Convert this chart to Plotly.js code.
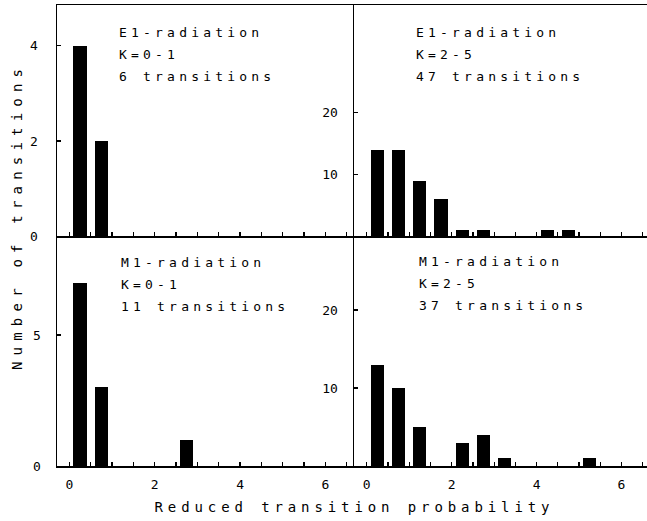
<!DOCTYPE html>
<html>
<head>
<meta charset="utf-8">
<script src="https://cdn.plot.ly/plotly-3.0.1.min.js"></script>
<style>
  html, body { margin: 0; padding: 0; background: #fff; }
  .annotation-text { letter-spacing: 4.2px; }
  .xtick text, .ytick text { letter-spacing: 3px; }
</style>
</head>
<body>
<div id="chart" style="width:647px;height:521px;"></div>
<script>
// Bin centres (reduced transition probability) and counts for each panel
const e1LowK_x  = [0.25, 0.75];
const e1LowK_y  = [4, 2];
const e1HighK_x = [0.25, 0.75, 1.25, 1.75, 2.25, 2.75, 4.25, 4.75];
const e1HighK_y = [14, 14, 9, 6, 1, 1, 1, 1];
const m1LowK_x  = [0.25, 0.75, 2.75];
const m1LowK_y  = [7, 3, 1];
const m1HighK_x = [0.25, 0.75, 1.25, 2.25, 2.75, 3.25, 5.25];
const m1HighK_y = [13, 10, 5, 3, 4, 1, 1];

// Panel labels
const panelLines = [
  ["E1-radiation", "K=0-1", "6 transitions"],
  ["E1-radiation", "K=2-5", "47 transitions"],
  ["M1-radiation", "K=0-1", "11 transitions"],
  ["M1-radiation", "K=2-5", "37 transitions"]
];

// Tick labels
const xTickVals = [0, 0.5, 1, 1.5, 2, 2.5, 3, 3.5, 4, 4.5, 5, 5.5, 6, 6.5];
const xTickText = ["0", "", "", "", "2", "", "", "", "4", "", "", "", "6", ""];
const yTicksTL = [0, 2, 4];
const yTicksTR = [10, 20];
const yTicksBL = [0, 5];
const yTicksBR = [10, 20];

const xTitle = "Reduced transition probability";
const yTitle = "Number of transitions";

const FONT = "DejaVu Sans Mono";
const bar = (x, y, xa, ya) => ({
  type: "bar", x: x, y: y, xaxis: xa, yaxis: ya,
  width: 0.31, marker: {color: "#000", line: {width: 0}},
  hoverinfo: "x+y", showlegend: false
});

const data = [
  bar(e1LowK_x,  e1LowK_y,  "x",  "y"),
  bar(e1HighK_x, e1HighK_y, "x2", "y2"),
  bar(m1LowK_x,  m1LowK_y,  "x3", "y3"),
  bar(m1HighK_x, m1HighK_y, "x4", "y4")
];

const splitX = 0.5034, splitY = 0.4989;
const xBase = (dom, range, anchor, labels, mirror) => ({
  domain: dom, range: range, anchor: anchor,
  showline: true, linecolor: "#000", linewidth: 1.5, mirror: mirror,
  showgrid: false, zeroline: false,
  ticks: "inside", ticklen: 4, tickwidth: 1.2, tickcolor: "#000",
  tickmode: "array", tickvals: xTickVals,
  ticktext: labels ? xTickText : xTickVals.map(() => ""),
  showticklabels: labels, ticklabelstandoff: 6,
  tickfont: {family: FONT, size: 13, color: "#000"}
});
const yBase = (dom, range, anchor, vals) => ({
  domain: dom, range: range, anchor: anchor,
  showline: true, linecolor: "#000", linewidth: 1.5,
  showgrid: false, zeroline: false,
  ticks: "inside", ticklen: 4, tickwidth: 1.2, tickcolor: "#000",
  tickmode: "array", tickvals: vals, ticklabelstandoff: 12,
  tickfont: {family: FONT, size: 13, color: "#000"}
});

const leftR = [-0.29, 6.67], rightR = [-0.30, 6.6];
const layout = {
  width: 647, height: 521,
  margin: {l: 57, r: 0, t: 5, b: 55},
  paper_bgcolor: "#fff", plot_bgcolor: "rgba(0,0,0,0)",
  bargap: 0,
  xaxis:  xBase([0, splitX], leftR, "y", false, true),
  xaxis2: xBase([splitX, 1], rightR, "y2", false, true),
  xaxis3: xBase([0, splitX], leftR, "y3", true, false),
  xaxis4: xBase([splitX, 1], rightR, "y4", true, false),
  yaxis:  yBase([splitY, 1], [0, 4.86], "x", yTicksTL),
  yaxis2: yBase([splitY, 1], [0, 37.5], "x2", yTicksTR),
  yaxis3: yBase([0, splitY], [0, 8.78], "x3", yTicksBL),
  yaxis4: yBase([0, splitY], [0, 29.5], "x4", yTicksBR),
  annotations: []
};

// panel label positions (paper coords) - left x, first line y, line step
const labelPos = [
  {x: 0.1018, y: 0.9393},
  {x: 0.6057, y: 0.9393},
  {x: 0.1056, y: 0.4410},
  {x: 0.6110, y: 0.4432}
];
const lineStep = 0.0475;
panelLines.forEach((lines, p) => {
  lines.forEach((t, i) => {
    layout.annotations.push({
      text: t, xref: "paper", yref: "paper",
      x: labelPos[p].x, y: labelPos[p].y - i * lineStep,
      xanchor: "left", yanchor: "middle", showarrow: false,
      font: {family: FONT, size: 13, color: "#000"}
    });
  });
});
layout.annotations.push({
  text: xTitle, xref: "paper", yref: "paper", x: 0.505, y: -0.089,
  xanchor: "center", yanchor: "middle", showarrow: false,
  font: {family: FONT, size: 14, color: "#000"}
});
layout.annotations.push({
  text: yTitle, xref: "paper", yref: "paper", x: -0.068, y: 0.542,
  xanchor: "center", yanchor: "middle", showarrow: false, textangle: -90,
  font: {family: FONT, size: 14, color: "#000"}
});

Plotly.newPlot("chart", data, layout, {staticPlot: true, displayModeBar: false}).then(() => {
  // wider letter spacing for the axis titles (plotter-style lettering)
  const anns = document.querySelectorAll("#chart .annotation-text");
  anns[anns.length - 2].style.letterSpacing = "4.9px";
  anns[anns.length - 1].style.letterSpacing = "6.2px";
});
</script>
</body>
</html>
